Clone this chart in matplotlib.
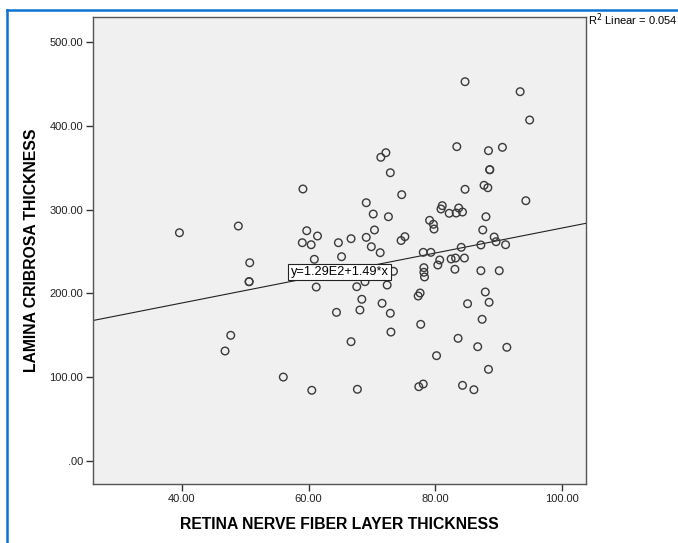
import matplotlib
matplotlib.use("Agg")
import matplotlib.pyplot as plt
from matplotlib.lines import Line2D
import numpy as np

plt.rcParams['font.family'] = ['Liberation Sans', 'DejaVu Sans']

# Data
rnfl = [59.1, 39.6, 48.9, 59.7, 61.4, 59.0, 60.4, 64.7, 50.7, 60.9,
        50.6, 50.6, 61.2, 64.4, 47.7, 46.8, 56.0, 60.5,
        84.7, 93.4, 94.9, 72.2, 71.4, 83.4, 88.4, 90.6, 72.9, 88.6, 88.6,
        74.7, 84.7, 87.7, 88.3, 94.3, 69.1, 70.2, 72.6, 81.1, 80.9, 82.2,
        83.3, 83.7, 84.3, 88.0, 70.4, 79.1, 79.7, 79.8, 87.5, 66.7, 69.1,
        75.2, 74.6, 89.3,
        69.9, 71.3, 65.2, 78.1, 79.3, 84.1, 87.2, 89.6, 91.1, 80.7, 80.4,
        82.5, 83.2, 84.6, 73.4, 78.2, 78.2, 78.3, 83.1, 87.2, 90.1, 68.9,
        67.6, 72.4, 77.6, 77.3, 87.9, 68.4, 71.6, 85.1, 88.5, 68.1, 72.9,
        87.4, 77.7, 73.0, 66.7, 83.6, 86.7, 91.3, 80.2, 88.4, 67.7, 78.1,
        77.4, 84.3, 86.1]
lc = [324.6, 272.4, 280.4, 274.8, 268.5, 260.5, 258.1, 260.5, 236.6, 240.7,
      214.0, 214.0, 207.6, 177.4, 150.0, 131.3, 100.2, 84.4,
      452.6, 440.7, 406.9, 367.9, 362.4, 375.1, 370.3, 374.3, 344.0, 347.6, 347.6,
      317.8, 324.2, 329.0, 326.1, 310.6, 308.2, 294.7, 291.5, 304.7, 300.7, 295.6,
      295.9, 301.9, 297.1, 291.5, 275.7, 287.2, 282.5, 276.8, 275.7, 265.3, 266.9,
      267.7, 263.1, 267.3,
      255.7, 248.6, 243.8, 249.0, 249.0, 255.0, 257.8, 261.7, 258.1, 239.9, 233.9,
      241.1, 242.2, 242.2, 226.4, 230.7, 225.2, 219.6, 228.8, 227.1, 227.1, 214.0,
      208.0, 210.0, 200.5, 196.9, 201.7, 193.0, 188.2, 187.7, 189.4, 180.2, 176.3,
      169.1, 163.1, 153.9, 142.4, 146.4, 136.4, 135.7, 125.7, 109.4, 85.6, 91.9,
      88.7, 90.3, 85.1]

intercept = 129.0
slope = 1.49
r2_text = "R$^2$ Linear = 0.054"
eq_text = "y=1.29E2+1.49*x"

x_ticks = [40, 60, 80, 100]
x_ticklabels = ["40.00", "60.00", "80.00", "100.00"]
y_ticks = [0, 100, 200, 300, 400, 500]
y_ticklabels = [".00", "100.00", "200.00", "300.00", "400.00", "500.00"]

W, H = 678, 543
fig = plt.figure(figsize=(W / 100, H / 100), dpi=100)
fig.patch.set_facecolor("white")

ax = fig.add_axes([93 / W, 1 - 484 / H, (586 - 93) / W, (484 - 17) / H])
ax.set_facecolor("#F0F0F0")
xlim = (25.95, 103.8)
ylim = (-27.4, 529.8)
ax.set_xlim(*xlim)
ax.set_ylim(*ylim)

ax.scatter(rnfl, lc, s=30, facecolors="none", edgecolors="#3a3a3a",
           linewidths=1.0, zorder=3)

xs = np.array(xlim)
ax.plot(xs, intercept + slope * xs, color="#222222", lw=0.8, zorder=2)

ax.text(64.9, intercept + slope * 64.9, eq_text, fontsize=9.2, ha="center",
        va="center", zorder=5,
        bbox=dict(boxstyle="square,pad=0.18", fc="white", ec="#222222", lw=0.8))

ax.set_xticks(x_ticks)
ax.set_xticklabels(x_ticklabels)
ax.set_yticks(y_ticks)
ax.set_yticklabels(y_ticklabels)
ax.tick_params(axis="both", direction="out", length=5, width=1,
               color="#333333", labelsize=8, labelcolor="#222222", pad=2)
for s in ax.spines.values():
    s.set_color("#555555")
    s.set_linewidth(1.0)

ax.set_xlabel("RETINA NERVE FIBER LAYER THICKNESS", fontsize=11.3,
              fontweight="bold", labelpad=9.5)
ax.set_ylabel("LAMINA CRIBROSA THICKNESS", fontsize=11.3,
              fontweight="bold", labelpad=7.5)

fig.text(588 / W, 1 - 11 / H, r2_text, fontsize=8, ha="left", va="top")

# blue selection frame
fig.add_artist(Line2D([7 / W, 7 / W], [0, 1 - 10 / H], color="#0A74D0", lw=1.8,
                      transform=fig.transFigure))
fig.add_artist(Line2D([7 / W, 1], [1 - 10 / H, 1 - 10 / H], color="#0A74D0", lw=1.8,
                      transform=fig.transFigure))

fig.savefig("out.png", dpi=100)
